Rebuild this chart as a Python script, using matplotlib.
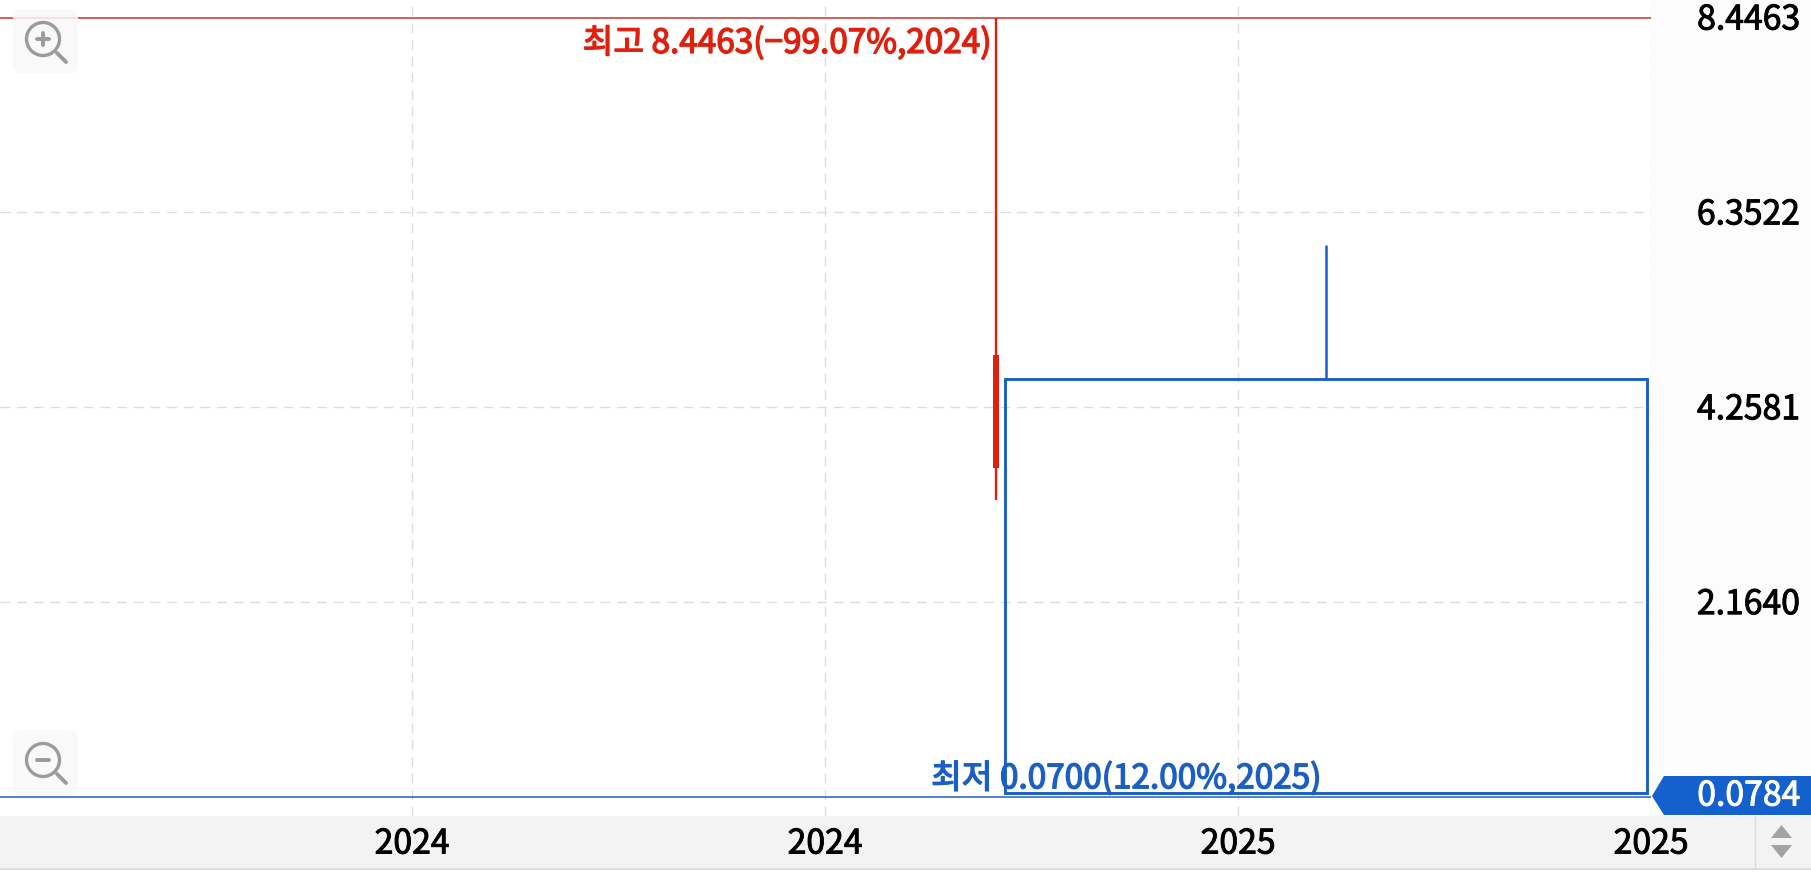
import matplotlib
matplotlib.use('Agg')
import matplotlib.pyplot as plt
import matplotlib.patheffects as pe
from matplotlib.patches import FancyBboxPatch, Polygon, Rectangle, Circle
from matplotlib.transforms import Affine2D

W, H = 1811, 872
PLOT_W, PLOT_H = 1651, 816

# price axis labels and x ticks (tick units, one per label)
y_ticks = [8.4463, 6.3522, 4.2581, 2.1640, 0.0784]
x_ticks = [1, 2, 3, 4]
x_labels = ['2024', '2024', '2025', '2025']

# candles
cx = [2.413, 3.213]
widths = [0.0145, 1.554]
opens = [3.61, 4.566]
closes = [4.82, 0.113]
highs = [8.4463, 6.006]
lows = [3.27, 0.113]

high_val = 8.4463
low_val = 0.0784
high_text = '최고 8.4463(\u221299.07%,2024)'
low_text = '최저 0.0700(12.00%,2025)'
last_text = '0.0784'

RED = '#e0200f'
RED_LINE = '#c9362c'
BLUE = '#1c5fc4'
TAG = '#1460cc'
GRID = '#dddddd'
FONT = ['Noto Sans CJK KR', 'DejaVu Sans']
FS = 24.3
FS_NOTE = 24.0

plt.rcParams['font.family'] = FONT


def thick(color, w=0.7):
    # only regular and bold are picked up, so fake the medium weight
    return [pe.withStroke(linewidth=w, foreground=color)]


fig = plt.figure(figsize=(W / 100, H / 100), dpi=100, facecolor='white')

# furniture layer in pixel coords, y down
bg = fig.add_axes([0, 0, 1, 1])
bg.set_xlim(0, W)
bg.set_ylim(H, 0)
bg.axis('off')
bg.add_patch(Rectangle((PLOT_W, 0), W - PLOT_W, PLOT_H, fc='#fcfcfc', ec='none'))
bg.add_patch(Rectangle((0, PLOT_H), W, 52, fc='#f3f3f3', ec='none'))
bg.plot([0, W], [869, 869], color='#dcdcdc', lw=1.4)
bg.plot([1755, 1755], [816, 868], color='#dcdcdc', lw=1)

ax = fig.add_axes([0, 1 - PLOT_H / H, PLOT_W / W, PLOT_H / H])
ax.patch.set_alpha(0)
px_per_unit = (796.7 - 18) / (high_val - low_val)
ax.set_ylim(low_val - (PLOT_H - 796.7) / px_per_unit, high_val + 18 / px_per_unit)
ax.set_xlim(1 / 413, PLOT_W / 413 + 1 / 413)
for s in ax.spines.values():
    s.set_visible(False)
ax.tick_params(left=False, bottom=False, labelleft=False, labelbottom=False)
ax.set_xticks(x_ticks)
ax.set_yticks(y_ticks[1:-1])
ax.grid(True, color=GRID, lw=1.0, ls=(0, (7, 5)))
ax.set_axisbelow(True)
# horizontal grid sits one pixel higher in the reference
for g in ax.get_ygridlines():
    g.set_transform(g.get_transform() + Affine2D().translate(0, 1))

ax.axhline(high_val, color=RED_LINE, lw=1.1)
ax.axhline(low_val, color=BLUE, lw=1.1)

# red candle, filled
ax.plot([cx[0], cx[0]], [lows[0], highs[0]], color=RED, lw=1.7, solid_capstyle='butt')
ax.bar(cx[0], closes[0] - opens[0], widths[0], bottom=opens[0], color=RED, lw=0)
# blue candle, hollow
ax.plot([cx[1], cx[1]], [opens[1], highs[1]], color=BLUE, lw=1.8, solid_capstyle='butt')
ax.bar(cx[1], opens[1] - closes[1], widths[1], bottom=closes[1], fc='none', ec=BLUE, lw=2.1)

ax.text(cx[0] - 0.013, high_val - 0.085, high_text, color=RED, fontsize=FS_NOTE,
        ha='right', va='top', path_effects=thick(RED, 1.0))
ax.text(2.257, low_val + 0.005, low_text, color=BLUE, fontsize=FS_NOTE,
        ha='left', va='bottom', zorder=5, path_effects=thick(BLUE, 1.0))

# price labels
top = fig.add_axes([0, 0, 1, 1])
top.set_xlim(0, W)
top.set_ylim(H, 0)
top.axis('off')
top.patch.set_alpha(0)
for v in y_ticks[:-1]:
    py = 18 + (high_val - v) * px_per_unit
    top.text(1800, py + 2, '%.4f' % v, color='#000000', fontsize=FS, ha='right', va='center',
             path_effects=thick('#000000', 0.7))
top.add_patch(Polygon([(1652, 796), (1664, 776), (W, 776), (W, 815), (1664, 815)], fc=TAG, ec='none'))
top.text(1800, 796, last_text, color='white', fontsize=FS, ha='right', va='center',
         path_effects=thick('white', 0.7))

# date labels in the bottom bar
for t, lab in zip(x_ticks, x_labels):
    top.text(413 * t - 1, 844, lab, color='#000000', fontsize=FS, ha='center', va='center',
             path_effects=thick('#000000', 0.7))

# scroll arrows
top.add_patch(Polygon([(1771, 838), (1781.5, 825), (1792, 838)], fc='#a3a3a3', ec='none'))
top.add_patch(Polygon([(1771, 845), (1792, 845), (1781.5, 858)], fc='#a3a3a3', ec='none'))


def zoom_icon(y0, plus):
    top.add_patch(FancyBboxPatch((13, y0), 65, 65, boxstyle='round,pad=0,rounding_size=10',
                                 fc='#f9f9f9', ec='none', alpha=0.85))
    cy = y0 + 30
    top.add_patch(Circle((43, cy), 16.5, fc='none', ec='#9b9b9b', lw=2.4))
    top.plot([57, 66], [cy + 14, cy + 23], color='#9b9b9b', lw=2.8, solid_capstyle='round')
    top.plot([37, 49], [cy, cy], color='#9b9b9b', lw=2.8, solid_capstyle='round')
    if plus:
        top.plot([43, 43], [cy - 6, cy + 6], color='#9b9b9b', lw=2.8, solid_capstyle='round')


zoom_icon(9, True)
zoom_icon(730, False)

fig.savefig('out.png', dpi=100)
